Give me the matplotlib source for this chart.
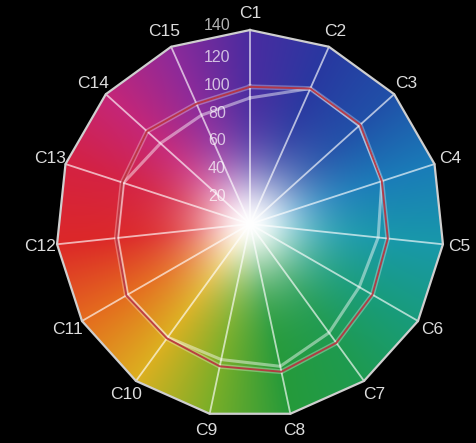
import matplotlib.pyplot as plt
import numpy as np
from matplotlib.patches import Polygon
from matplotlib.colors import to_rgb

# Data
categories = ['C1', 'C2', 'C3', 'C4', 'C5', 'C6', 'C7', 'C8',
              'C9', 'C10', 'C11', 'C12', 'C13', 'C14', 'C15']
series_red   = [99, 107, 107, 100, 100, 102, 106, 109, 105, 102, 103, 97, 97, 100, 95]
series_light = [91, 107, 106, 100, 93, 91, 97, 105, 100, 101, 102, 96, 96, 87, 86]
r_ticks = [20, 40, 60, 80, 100, 120, 140]
r_max = 140

# colour of each sector at the rim
wheel_colors = ['#4a2ca0', '#2838a0', '#2050a8', '#1a7cb8', '#1898aa', '#189c7c', '#1e9a50',
                '#259a3a', '#7aae28', '#dcb020', '#e46c1e', '#dc2828', '#d42242', '#c42678',
                '#8c2a9a']

n = len(categories)
theta = np.arange(n) * 2 * np.pi / n      # clockwise from the top


def to_xy(values):
    v = np.asarray(values, dtype=float)
    return v * np.sin(theta), v * np.cos(theta)


plt.rcParams['font.family'] = ['Liberation Sans', 'DejaVu Sans']
fig = plt.figure(figsize=(4.77, 4.43), dpi=100, facecolor='black')
ax = fig.add_axes([0, 0, 1, 1])
ax.set_facecolor('black')
ax.set_aspect('equal')
ax.axis('off')

# ---- colour wheel background ----
g = np.linspace(-r_max - 5, r_max + 5, 600)
X, Y = np.meshgrid(g, g[::-1])
R = np.hypot(X, Y)
ang = np.mod(np.degrees(np.arctan2(X, Y)), 360)
anchors = np.array([to_rgb(c) for c in wheel_colors + [wheel_colors[0]]])
a_deg = np.arange(n + 1) * 360 / n
rgb = np.stack([np.interp(ang, a_deg, anchors[:, k]) for k in range(3)], axis=-1)
s = 1 - np.exp(-(R / 41.0) ** 1.8)
img = 1 - s[..., None] * (1 - rgb)
im = ax.imshow(img, extent=[g[0], g[-1], g[0], g[-1]], interpolation='bilinear', zorder=0)

fx, fy = to_xy([r_max] * n)
frame = Polygon(np.column_stack([fx, fy]), closed=True, transform=ax.transData)
im.set_clip_path(frame)

# ---- frame + spokes ----
ax.plot(np.append(fx, fx[0]), np.append(fy, fy[0]), color='#cfcfcf', lw=1.6, zorder=3)
for x1, y1 in zip(fx, fy):
    ax.plot([0, x1], [0, y1], color='white', lw=1.3, alpha=0.65, zorder=2)

# ---- series ----
lx, ly = to_xy(series_light)
ax.plot(np.append(lx, lx[0]), np.append(ly, ly[0]), color='white', lw=2.2, alpha=0.45, zorder=4)
rx, ry = to_xy(series_red)
ax.plot(np.append(rx, rx[0]), np.append(ry, ry[0]), color='white', lw=3.5, alpha=0.3, zorder=4)
ax.plot(np.append(rx, rx[0]), np.append(ry, ry[0]), color='#b8303c', lw=1.4, alpha=0.9, zorder=5)

# ---- radial tick labels ----
for t in r_ticks:
    ax.text(-24, t + (3 if t == r_max else 0), str(t), ha='center', va='center',
            fontsize=11.5, color='white', alpha=0.7, zorder=6)

# ---- category labels ----
lab_x, lab_y = to_xy([152] * n)
for name, x, y in zip(categories, lab_x, lab_y):
    ax.text(x, y, name, ha='center', va='center', fontsize=12.5, color='#dcdcdc', zorder=6)

# centre of the wheel sits at (250, 224) px
ax.set_xlim(-250 / 194 * 140, 227 / 194 * 140)
ax.set_ylim(-219 / 194 * 140, 224 / 194 * 140)

plt.savefig('out.png', dpi=100, facecolor='black')
